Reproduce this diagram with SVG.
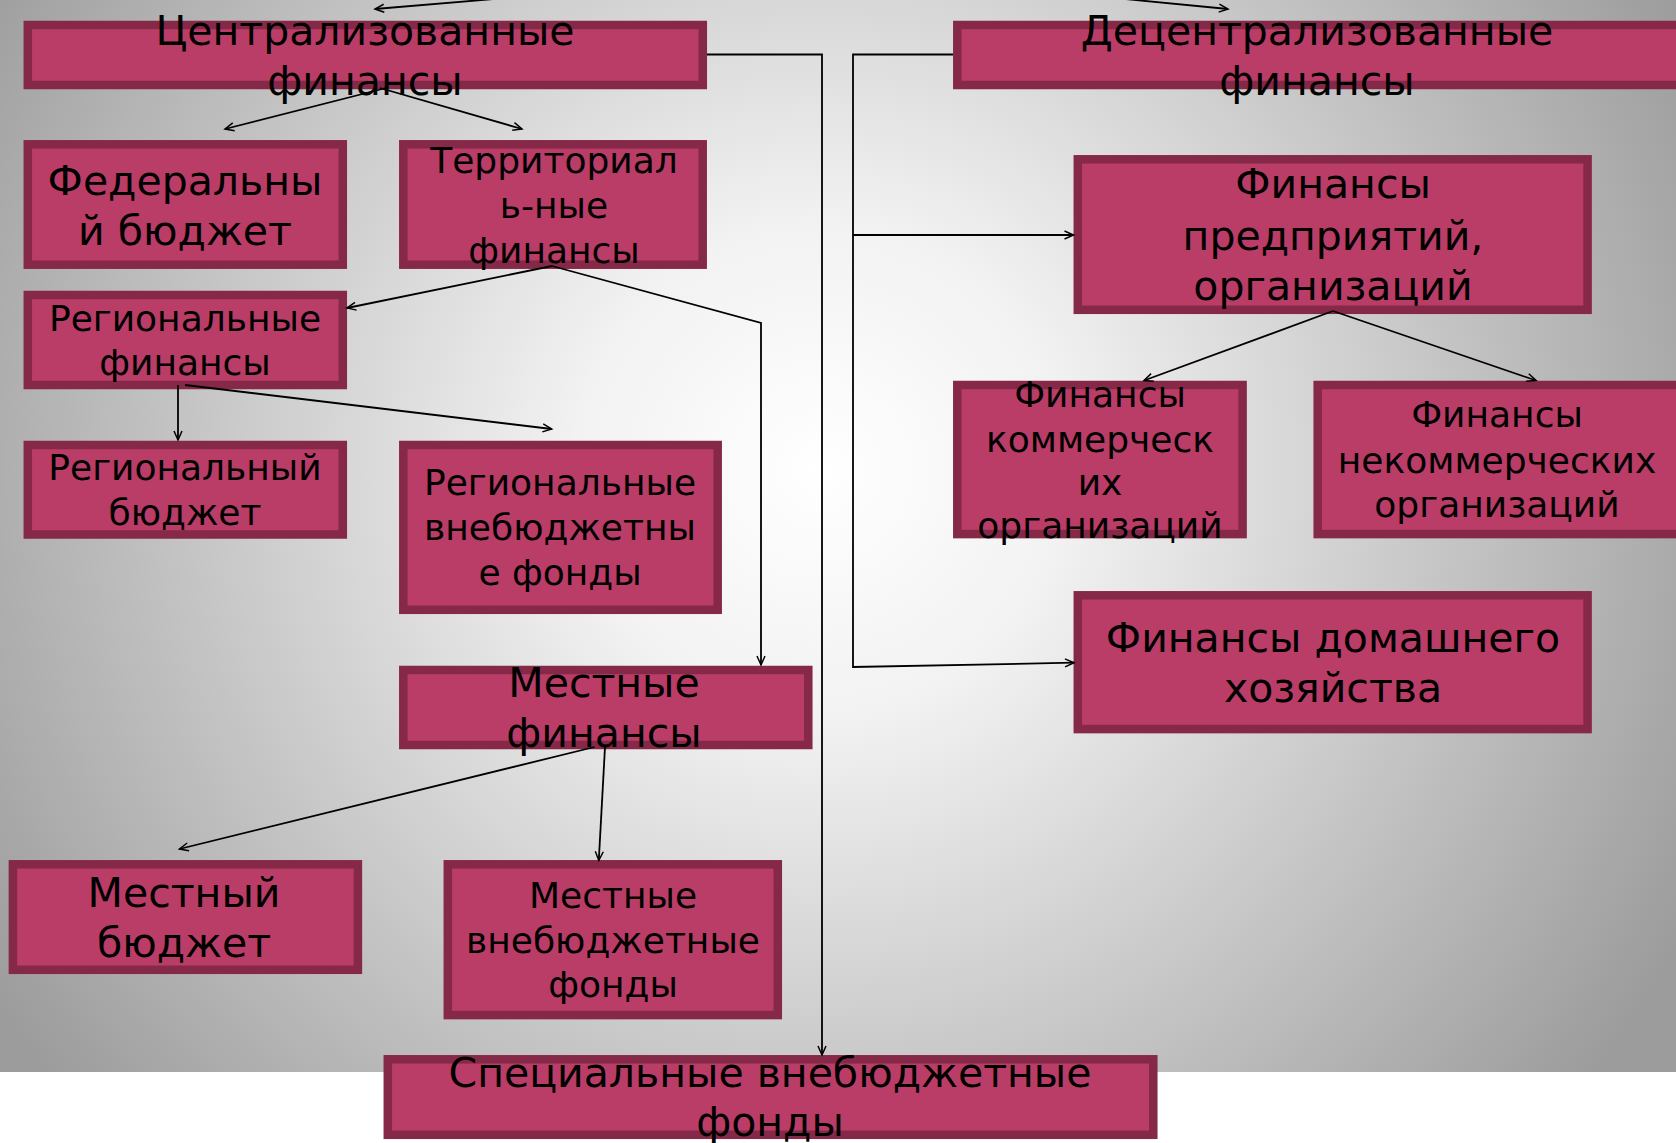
<svg xmlns="http://www.w3.org/2000/svg" width="1676" height="1143" viewBox="0 0 1676 1143">
<defs>
  <radialGradient id="bg" gradientUnits="userSpaceOnUse" cx="820" cy="470" r="980">
    <stop offset="0" stop-color="#ffffff"/>
    <stop offset="0.25" stop-color="#f2f2f2"/>
    <stop offset="1" stop-color="#9c9c9c"/>
  </radialGradient>
  <marker id="arr" viewBox="-10 -5 12 10" refX="0" refY="0" markerWidth="12" markerHeight="10" markerUnits="userSpaceOnUse" orient="auto">
    <path d="M-9,-4 L0,0 L-9,4" fill="none" stroke="#000" stroke-width="1.5"/>
  </marker>
</defs>
<style>
  .box { fill: #B93D67; stroke: #862848; stroke-width: 8.5; }
  .t41 { font-family: "DejaVu Sans", Verdana, sans-serif; font-size: 41px; fill: #000; text-anchor: middle; }
  .t36 { font-family: "DejaVu Sans", Verdana, sans-serif; font-size: 36px; fill: #000; text-anchor: middle; }
  .conn { fill: none; stroke: #000; stroke-width: 1.8; }
</style>
<rect x="0" y="0" width="1676" height="1143" fill="#ffffff"/>
<rect x="0" y="0" width="1676" height="1072" fill="url(#bg)"/>

<g id="node-centralized">
  <rect class="box" x="27.8" y="25" width="675" height="60"/>
  <text class="t41" x="365" y="45">Централизованные</text>
  <text class="t41" x="365" y="95">финансы</text>
</g>
<g id="node-decentralized">
  <rect class="box" x="957.3" y="25" width="740" height="60"/>
  <text class="t41" x="1317" y="45">Децентрализованные</text>
  <text class="t41" x="1317" y="95">финансы</text>
</g>
<g id="node-federal">
  <rect class="box" x="27.8" y="144.3" width="315" height="120.4"/>
  <text class="t41" x="185" y="195">Федеральны</text>
  <text class="t41" x="185" y="245">й бюджет</text>
</g>
<g id="node-territorial">
  <rect class="box" x="403.3" y="144.3" width="299.4" height="120.4"/>
  <text class="t36" x="554" y="173">Территориал</text>
  <text class="t36" x="554" y="218">ь-ные</text>
  <text class="t36" x="554" y="263">финансы</text>
</g>
<g id="node-regional-finance">
  <rect class="box" x="27.8" y="295" width="315" height="90"/>
  <text class="t36" x="185" y="331">Региональные</text>
  <text class="t36" x="185" y="375">финансы</text>
</g>
<g id="node-regional-budget">
  <rect class="box" x="27.8" y="445" width="315" height="89.5"/>
  <text class="t36" x="185" y="480">Региональный</text>
  <text class="t36" x="185" y="525">бюджет</text>
</g>
<g id="node-regional-funds">
  <rect class="box" x="403.3" y="445" width="314.4" height="164.8"/>
  <text class="t36" x="560" y="495">Региональные</text>
  <text class="t36" x="560" y="540">внебюджетны</text>
  <text class="t36" x="560" y="585">е фонды</text>
</g>
<g id="node-local-finance">
  <rect class="box" x="403.3" y="670" width="405" height="75"/>
  <text class="t41" x="604" y="697">Местные</text>
  <text class="t41" x="604" y="747">финансы</text>
</g>
<g id="node-local-budget">
  <rect class="box" x="12.9" y="864.3" width="345" height="105.5"/>
  <text class="t41" x="184" y="907">Местный</text>
  <text class="t41" x="184" y="957">бюджет</text>
</g>
<g id="node-local-funds">
  <rect class="box" x="447.8" y="864.3" width="330" height="150.8"/>
  <text class="t36" x="613" y="908">Местные</text>
  <text class="t36" x="613" y="953">внебюджетные</text>
  <text class="t36" x="613" y="997">фонды</text>
</g>
<g id="node-special-funds">
  <rect class="box" x="387.8" y="1059.3" width="765.5" height="75.5"/>
  <text class="t41" x="770" y="1087">Специальные внебюджетные</text>
  <text class="t41" x="770" y="1136">фонды</text>
</g>
<g id="node-enterprises">
  <rect class="box" x="1077.8" y="159.3" width="509.8" height="150.5"/>
  <text class="t41" x="1333" y="198">Финансы</text>
  <text class="t41" x="1333" y="250">предприятий,</text>
  <text class="t41" x="1333" y="300">организаций</text>
</g>
<g id="node-commercial">
  <rect class="box" x="957.3" y="385" width="285.3" height="149.1"/>
  <text class="t36" x="1100" y="407">Финансы</text>
  <text class="t36" x="1100" y="452">коммерческ</text>
  <text class="t36" x="1100" y="495">их</text>
  <text class="t36" x="1100" y="538">организаций</text>
</g>
<g id="node-noncommercial">
  <rect class="box" x="1317.7" y="385" width="400" height="149.1"/>
  <text class="t36" x="1497" y="427">Финансы</text>
  <text class="t36" x="1497" y="473">некоммерческих</text>
  <text class="t36" x="1497" y="517">организаций</text>
</g>
<g id="node-household">
  <rect class="box" x="1077.8" y="595.3" width="509.8" height="133.8"/>
  <text class="t41" x="1333" y="652">Финансы домашнего</text>
  <text class="t41" x="1333" y="702">хозяйства</text>
</g>

<g id="connectors">
  <path class="conn" d="M494,-1 L375,9" marker-end="url(#arr)"/>
  <path class="conn" d="M1125,-1 L1228,9" marker-end="url(#arr)"/>
  <path class="conn" d="M707,54.5 L822,54.5 L822,1055" marker-end="url(#arr)"/>
  <path class="conn" d="M953,54.5 L853,54.5 L853,667 L1074,662.7" marker-end="url(#arr)"/>
  <path class="conn" d="M853,235 L1073.5,235" marker-end="url(#arr)"/>
  <path class="conn" d="M386,88 L225,129" marker-end="url(#arr)"/>
  <path class="conn" d="M380,88 L522,129" marker-end="url(#arr)"/>
  <path class="conn" d="M552,266 L347,308" marker-end="url(#arr)"/>
  <path class="conn" d="M552,266 L761,323 L761,665" marker-end="url(#arr)"/>
  <path class="conn" d="M178,385 L178,440" marker-end="url(#arr)"/>
  <path class="conn" d="M185,385 L551.7,429" marker-end="url(#arr)"/>
  <path class="conn" d="M594.5,747 L179.4,849" marker-end="url(#arr)"/>
  <path class="conn" d="M605,747 L598.8,860.5" marker-end="url(#arr)"/>
  <path class="conn" d="M1333,311 L1144,380.5" marker-end="url(#arr)"/>
  <path class="conn" d="M1333,311 L1536,380.5" marker-end="url(#arr)"/>
</g>
</svg>
